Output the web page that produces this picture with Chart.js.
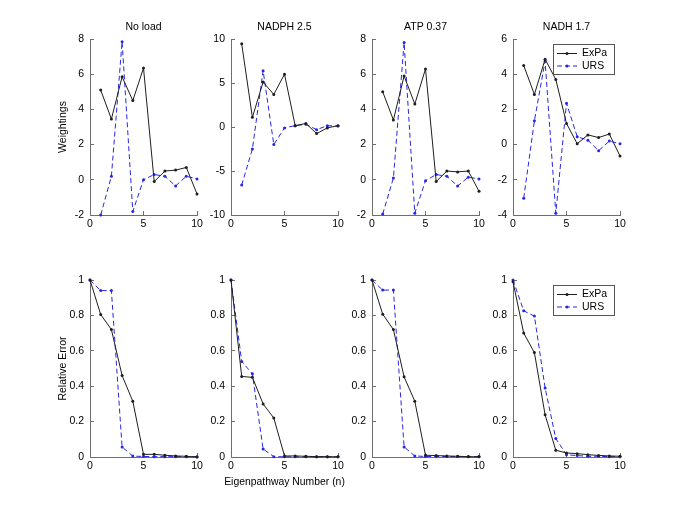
<!DOCTYPE html>
<html>
<head>
<meta charset="utf-8">
<script src="https://cdn.jsdelivr.net/npm/chart.js@4.4.1/dist/chart.umd.min.js"></script>
<style>
  html, body { margin: 0; padding: 0; background: #fff; }
  body { width: 685px; height: 513px; position: relative; overflow: hidden; }
  .panel { position: absolute; }
</style>
</head>
<body>
<script>
// panel titles and eigenpathway numbers
const titles = ['No load', 'NADPH 2.5', 'ATP 0.37', 'NADH 1.7'];
const pathwayTop = [1, 2, 3, 4, 5, 6, 7, 8, 9, 10];
const pathwayBottom = [0, 1, 2, 3, 4, 5, 6, 7, 8, 9, 10];

// weightings (top row)
const noLoadExpaW = [5.1, 3.45, 5.85, 4.5, 6.35, -0.1, 0.5, 0.55, 0.7, -0.8];
const noLoadUrsW  = [-2.0, 0.2, 7.85, -1.8, 0.0, 0.3, 0.2, -0.35, 0.2, 0.05];
const nadphExpaW  = [9.45, 1.1, 5.1, 3.7, 6.0, 0.15, 0.4, -0.75, -0.1, 0.15];
const nadphUrsW   = [-6.6, -2.5, 6.4, -2.0, -0.1, 0.15, 0.3, -0.3, 0.15, 0.1];
const atpExpaW    = [5.0, 3.4, 5.9, 4.3, 6.3, -0.1, 0.5, 0.45, 0.5, -0.65];
const atpUrsW     = [-1.95, 0.1, 7.8, -1.9, -0.05, 0.3, 0.2, -0.35, 0.15, 0.05];
const nadhExpaW   = [4.5, 2.85, 4.85, 3.7, 1.2, 0.05, 0.55, 0.4, 0.6, -0.65];
const nadhUrsW    = [-3.05, 1.35, 4.75, -3.9, 2.35, 0.45, 0.25, -0.35, 0.2, 0.05];

// relative error (bottom row)
const noLoadExpaErr = [1, 0.805, 0.72, 0.46, 0.315, 0.015, 0.015, 0.01, 0.006, 0.004, 0];
const noLoadUrsErr  = [1, 0.94, 0.94, 0.057, 0.005, 0.003, 0.002, 0.002, 0.002, 0.002, 0.002];
const nadphExpaErr  = [1, 0.455, 0.45, 0.3, 0.22, 0.006, 0.006, 0.004, 0.002, 0.002, 0.001];
const nadphUrsErr   = [1, 0.54, 0.47, 0.045, 0.002, 0.001, 0.001, 0.001, 0.001, 0.001, 0.001];
const atpExpaErr    = [1, 0.807, 0.72, 0.453, 0.315, 0.01, 0.008, 0.006, 0.004, 0.002, 0.001];
const atpUrsErr     = [1, 0.943, 0.943, 0.057, 0.006, 0.003, 0.003, 0.003, 0.003, 0.003, 0.003];
const nadhExpaErr   = [0.99, 0.7, 0.59, 0.238, 0.038, 0.023, 0.019, 0.013, 0.009, 0.006, 0.004];
const nadhUrsErr    = [1, 0.826, 0.796, 0.39, 0.104, 0.013, 0.008, 0.004, 0.004, 0.002, 0.002];

// y ranges: [min, max, step]
const weightRanges = [[-2, 8, 2], [-10, 10, 5], [-2, 8, 2], [-4, 6, 2]];
const errorRange = [0, 1, 0.2];

const topExpa = [noLoadExpaW, nadphExpaW, atpExpaW, nadhExpaW];
const topUrs = [noLoadUrsW, nadphUrsW, atpUrsW, nadhUrsW];
const bottomExpa = [noLoadExpaErr, nadphExpaErr, atpExpaErr, nadhExpaErr];
const bottomUrs = [noLoadUrsErr, nadphUrsErr, atpUrsErr, nadhUrsErr];

// layout of the plot boxes (page pixels)
const plotLeft = [90, 231, 372, 513];
const plotWidth = 107;
const rowTop = [39, 280];
const rowHeight = [176, 177];
const PAD_L = 60, PAD_T = 30, PAD_R = 15, PAD_B = 35;

const FAMILY = 'Arial, "Liberation Sans", Helvetica, sans-serif';
const FONT = { family: FAMILY, size: 10.5 };
const AXIS_GREY = '#6e6e6e';
const EXPA_COLOR = '#1e1e1e';
const URS_COLOR = '#2626e6';

// text centred on the plot box (titles, and the shared x label)
const panelTitle = {
  id: 'panelTitle',
  afterDraw(chart, args, opts) {
    if (!opts.text) return;
    const { ctx, chartArea } = chart;
    ctx.save();
    ctx.fillStyle = '#000';
    ctx.font = `${opts.size}px ${FAMILY}`;
    ctx.textAlign = 'center';
    ctx.textBaseline = 'middle';
    ctx.fillText(opts.text, (chartArea.left + chartArea.right) / 2, chartArea.top + opts.dy);
    ctx.restore();
  }
};

// little boxed legend in the upper right corner, like the matlab one
const legendBox = {
  id: 'legendBox',
  afterDatasetsDraw(chart, args, opts) {
    if (!opts.show) return;
    const { ctx, chartArea } = chart;
    const w = 61, h = 30;
    const x = Math.round(chartArea.right - 6 - w), y = Math.round(chartArea.top + 5);
    ctx.save();
    ctx.fillStyle = '#fff';
    ctx.fillRect(x, y, w, h);
    ctx.strokeStyle = '#555';
    ctx.lineWidth = 1;
    ctx.strokeRect(x + 0.5, y + 0.5, w, h);
    chart.data.datasets.forEach((ds, i) => {
      const ly = y + 9.5 + i * 12.5;
      ctx.strokeStyle = ds.borderColor;
      ctx.setLineDash(ds.borderDash || []);
      ctx.beginPath();
      ctx.moveTo(x + 4, ly);
      ctx.lineTo(x + 24, ly);
      ctx.stroke();
      ctx.setLineDash([]);
      ctx.fillStyle = ds.borderColor;
      ctx.beginPath();
      ctx.arc(x + 14, ly, 1.5, 0, Math.PI * 2);
      ctx.fill();
      ctx.fillStyle = '#000';
      ctx.font = `${FONT.size}px ${FAMILY}`;
      ctx.textBaseline = 'middle';
      ctx.textAlign = 'left';
      ctx.fillText(ds.label, x + 29, ly);
    });
    ctx.restore();
  }
};

function series(label, xs, ys, color, dash) {
  return {
    label,
    data: xs.map((x, i) => ({ x, y: ys[i] })),
    borderColor: color,
    backgroundColor: color,
    borderWidth: 1,
    borderDash: dash,
    pointRadius: 1.5,
    pointHoverRadius: 1.5,
    pointBorderWidth: 0,
    pointBackgroundColor: color,
    tension: 0,
    clip: false,
  };
}

function fmt(v) {
  return String(+v.toFixed(2));
}

function makePanel(row, col) {
  const isTop = row === 0;
  const w = PAD_L + plotWidth + PAD_R;
  const h = PAD_T + rowHeight[row] + PAD_B;
  const div = document.createElement('div');
  div.className = 'panel';
  div.style.left = (plotLeft[col] - PAD_L) + 'px';
  div.style.top = (rowTop[row] - PAD_T) + 'px';
  const canvas = document.createElement('canvas');
  canvas.width = w;
  canvas.height = h;
  canvas.style.width = w + 'px';
  canvas.style.height = h + 'px';
  div.appendChild(canvas);
  document.body.appendChild(div);

  const xs = isTop ? pathwayTop : pathwayBottom;
  const expa = isTop ? topExpa[col] : bottomExpa[col];
  const urs = isTop ? topUrs[col] : bottomUrs[col];
  const [ymin, ymax, ystep] = isTop ? weightRanges[col] : errorRange;

  // titles above the top row, x label under the second bottom panel
  let label = { text: '' };
  if (isTop) label = { text: titles[col], size: 10.5, dy: -12.3 };
  else if (col === 1) label = { text: 'Eigenpathway Number (n)', size: 10.4, dy: rowHeight[row] + 25 };

  new Chart(canvas, {
    type: 'line',
    data: {
      datasets: [
        series('ExPa', xs, expa, EXPA_COLOR, []),
        series('URS', xs, urs, URS_COLOR, [5, 3]),
      ],
    },
    plugins: [legendBox, panelTitle],
    options: {
      responsive: false,
      animation: false,
      devicePixelRatio: 1,
      layout: { padding: { top: PAD_T, right: PAD_R, left: 0, bottom: 0 } },
      plugins: {
        legend: { display: false },
        tooltip: { enabled: false },
        title: { display: false },
        panelTitle: label,
        legendBox: { show: col === 3 },
      },
      scales: {
        x: {
          type: 'linear',
          min: 0,
          max: 10,
          afterFit(scale) { scale.height = PAD_B; },
          ticks: { stepSize: 5, color: '#000', font: FONT, padding: 7, maxRotation: 0, callback: fmt },
          grid: { drawOnChartArea: false, drawTicks: true, tickLength: -4, color: AXIS_GREY },
          border: { display: true, color: AXIS_GREY, width: 1 },
        },
        y: {
          type: 'linear',
          min: ymin,
          max: ymax,
          afterFit(scale) { scale.width = PAD_L; },
          ticks: { stepSize: ystep, color: '#000', font: FONT, padding: 10, callback: fmt },
          grid: { drawOnChartArea: false, drawTicks: true, tickLength: -4, color: AXIS_GREY },
          border: { display: true, color: AXIS_GREY, width: 1 },
          title: {
            display: col === 0,
            text: isTop ? 'Weightings' : 'Relative Error',
            color: '#000',
            font: FONT,
            padding: { top: 27, bottom: 0 },
          },
        },
      },
    },
  });
}

for (let row = 0; row < 2; row++) {
  for (let col = 0; col < 4; col++) makePanel(row, col);
}
</script>
</body>
</html>
